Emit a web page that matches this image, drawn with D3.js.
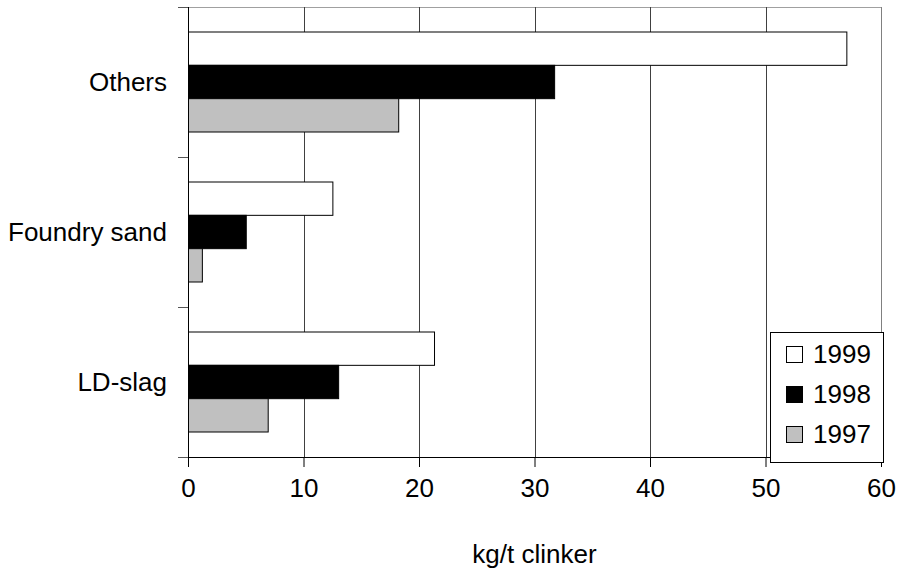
<!DOCTYPE html>
<html>
<head>
<meta charset="utf-8">
<script src="https://cdn.jsdelivr.net/npm/d3@7"></script>
<style>
  body { margin: 0; background: #fff; }
  text { font-family: "Liberation Sans", Arial, sans-serif; fill: #000; }
</style>
</head>
<body>
<svg id="chart" width="899" height="574"></svg>
<script>
// categories, top to bottom
const categories = ['Others', 'Foundry sand', 'LD-slag']
const years = ['1999', '1998', '1997']
const yearColors = ['#ffffff', '#000000', '#c0c0c0']
// kg/t clinker per year, same order as categories
const values1999 = [57.0, 12.5, 21.3]
const values1998 = [31.7, 5.0, 13.0]
const values1997 = [18.2, 1.2, 6.9]
const xTicks = [0, 10, 20, 30, 40, 50, 60]
const xTitle = 'kg/t clinker'

const seriesValues = [values1999, values1998, values1997]
const fontSize = '26px'

const svg = d3.select('#chart')
const plotLeft = 188, plotRight = 881, plotTop = 7, plotBottom = 457

let x = d3.scaleLinear().domain([0, 60]).range([plotLeft, plotRight])
let y = d3.scaleBand().domain(categories).range([plotTop, plotBottom])
let yInner = d3.scaleBand().domain(years).range([0, y.bandwidth()]).paddingOuter(0.75)

// top / right frame
svg.append('line')
  .attr('x1', plotLeft).attr('x2', plotRight + 0.5)
  .attr('y1', plotTop + 0.5).attr('y2', plotTop + 0.5)
  .attr('stroke', '#a0a0a0')
svg.append('line')
  .attr('x1', plotRight + 0.5).attr('x2', plotRight + 0.5)
  .attr('y1', plotTop).attr('y2', plotBottom)
  .attr('stroke', '#808080')

// gridlines
svg.selectAll('.grid')
  .data(xTicks.filter((d) => d > 0 && d < 60))
  .enter()
  .append('line')
  .attr('class', 'grid')
  .attr('x1', (d) => Math.round(x(d)) + 0.5)
  .attr('x2', (d) => Math.round(x(d)) + 0.5)
  .attr('y1', plotTop)
  .attr('y2', plotBottom)
  .attr('stroke', '#404040')

// bars
categories.forEach((cat, ci) => {
  years.forEach((yr, si) => {
    svg.append('rect')
      .attr('x', x(0) + 0.5)
      .attr('y', y(cat) + yInner(yr))
      .attr('width', x(seriesValues[si][ci]) - x(0))
      .attr('height', yInner.bandwidth())
      .attr('fill', yearColors[si])
      .attr('stroke', '#000')
      .attr('stroke-width', 1)
  })
})

// x axis
let xAxis = d3.axisBottom(x).tickValues(xTicks).tickSize(10).tickSizeOuter(0).tickPadding(12)
let gx = svg.append('g').attr('transform', `translate(0,${plotBottom})`).call(xAxis)
gx.select('.domain').attr('d', `M${plotLeft - 8},0.5H${plotRight + 1}`).attr('stroke', '#000')
gx.selectAll('.tick line').attr('stroke', '#000')
gx.selectAll('text').style('font-size', fontSize)
gx.attr('font-family', null)

// y axis
let gy = svg.append('g').attr('transform', `translate(${plotLeft},0)`)
gy.append('line')
  .attr('x1', 0.5).attr('x2', 0.5).attr('y1', plotTop).attr('y2', plotBottom + 10)
  .attr('stroke', '#000')
gy.selectAll('.ytick')
  .data(d3.range(categories.length + 1))
  .enter()
  .append('line')
  .attr('class', 'ytick')
  .attr('x1', -10).attr('x2', 0)
  .attr('y1', (d) => plotTop + d * y.step() + 0.5)
  .attr('y2', (d) => plotTop + d * y.step() + 0.5)
  .attr('stroke', '#555')
gy.selectAll('.ylabel')
  .data(categories)
  .enter()
  .append('text')
  .attr('class', 'ylabel')
  .attr('x', -21)
  .attr('y', (d) => y(d) + y.bandwidth() / 2)
  .attr('dy', '0.35em')
  .attr('text-anchor', 'end')
  .style('font-size', fontSize)
  .text((d) => d)

// axis title
svg.append('text')
  .attr('x', (plotLeft + plotRight) / 2)
  .attr('y', 563)
  .attr('text-anchor', 'middle')
  .style('font-size', fontSize)
  .text(xTitle)

// legend
let lg = svg.append('g').attr('transform', 'translate(770,332)')
lg.append('rect')
  .attr('x', 0.5).attr('y', 0.5)
  .attr('width', 113).attr('height', 130)
  .attr('fill', '#fff').attr('stroke', '#000')
years.forEach((yr, i) => {
  let cy = 22 + i * 40
  lg.append('rect')
    .attr('x', 16.5).attr('y', cy - 7.5)
    .attr('width', 16).attr('height', 16)
    .attr('fill', yearColors[i]).attr('stroke', '#000')
  lg.append('text')
    .attr('x', 43).attr('y', cy)
    .attr('dy', '0.35em')
    .style('font-size', fontSize)
    .text(yr)
})
</script>
</body>
</html>
